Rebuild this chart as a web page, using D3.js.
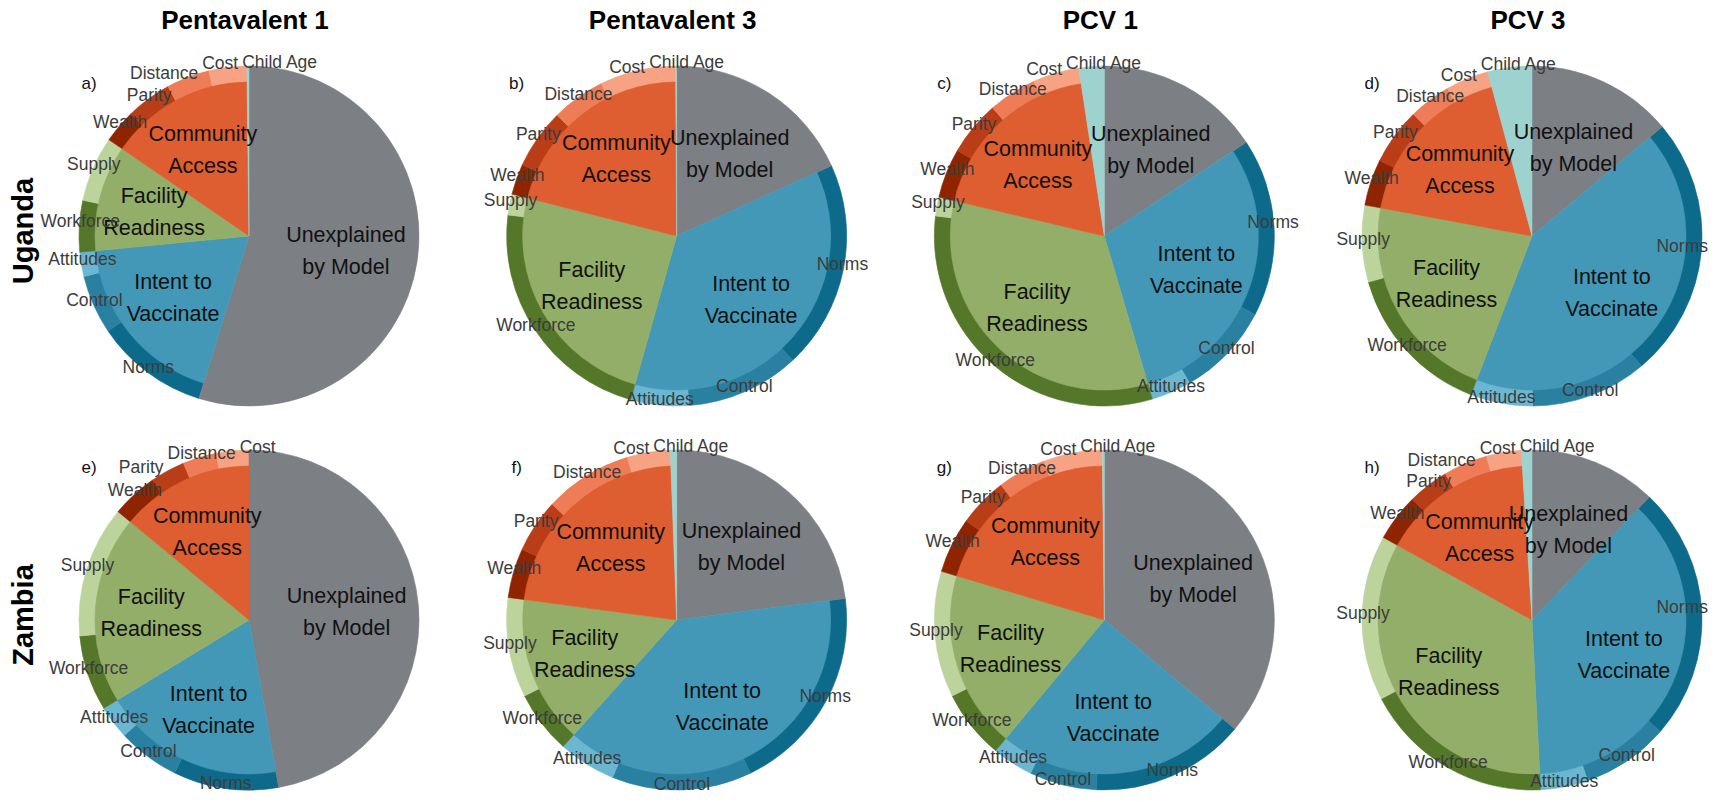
<!DOCTYPE html>
<html><head><meta charset="utf-8">
<script src="https://cdn.jsdelivr.net/npm/d3@7"></script>
<style>
body{margin:0;background:#fff}
svg{display:block}
text{font-family:"Liberation Sans",Arial,Helvetica,sans-serif}
</style>
</head><body>
<svg id="chart" width="1720" height="802"></svg>
<script>
// ---------------- data ----------------
const vaccines = ["Pentavalent 1", "Pentavalent 3", "PCV 1", "PCV 3"];
const countries = ["Uganda", "Zambia"];
const panelTags = ["a)", "b)", "c)", "d)", "e)", "f)", "g)", "h)"];

const groupNames = ["Unexplained by Model", "Intent to Vaccinate", "Facility Readiness", "Community Access", "Child Age"];
const groupLines = [["Unexplained", "by Model"], ["Intent to", "Vaccinate"], ["Facility", "Readiness"], ["Community", "Access"], []];
const leafNames = ["Unexplained", "Norms", "Control", "Attitudes", "Workforce", "Supply", "Wealth", "Parity", "Distance", "Cost", "Child Age"];
const leafGroup = [0, 1, 1, 1, 2, 2, 3, 3, 3, 3, 4];

// shares (%) per panel a..h
const unexplained = [54.7, 18.2, 15.7, 13.9, 47.2, 23.0, 36.1, 12.1];
const norms       = [10.8, 19.8, 16.9, 25.0, 10.0, 19.9, 14.7, 24.2];
const control     = [5.6, 10.8, 9.0, 11.1, 5.9, 13.3, 6.4, 8.3];
const attitudes   = [2.3, 5.5, 3.8, 5.9, 3.2, 5.5, 3.9, 4.5];
const workforce   = [4.9, 22.6, 31.4, 14.8, 7.2, 6.0, 6.6, 18.1];
const supply      = [6.2, 2.0, 1.8, 7.3, 12.5, 9.5, 12.0, 15.7];
const wealth      = [3.2, 2.9, 4.7, 4.4, 4.4, 4.7, 5.3, 4.5];
const parity      = [4.3, 5.7, 5.2, 5.4, 3.3, 5.1, 4.7, 3.9];
const distance    = [4.1, 5.1, 4.6, 4.0, 3.2, 8.4, 4.6, 4.2];
const cost        = [3.6, 7.2, 4.4, 4.1, 3.1, 4.1, 5.6, 3.3];
const childAge    = [0.2, 0.1, 2.4, 4.2, 0.0, 0.6, 0.2, 1.0];

const series = [unexplained, norms, control, attitudes, workforce, supply, wealth, parity, distance, cost, childAge];

// ---------------- styles ----------------
const leafColor = d3.scaleOrdinal().domain(leafNames).range([
  "#7c7f84", "#0d6a8a", "#2a80a0", "#6bb7d2", "#55772a", "#bcd49c",
  "#8f2500", "#b93e17", "#ee7d57", "#f7a283", "#9ed2cf"]);
const groupColor = d3.scaleOrdinal().domain(groupNames).range([
  "#7c7f84", "#4398b7", "#93ae68", "#de5d31", "#9ed2cf"]);

const W = 1720, H = 802;
const R = 170, RI = 154, RL = 98, RO = 169;
const FONT_OUT = 17.5;

const svg = d3.select("#chart");
const px = d3.scalePoint().domain(vaccines).range([249, 1532]);
const py = d3.scalePoint().domain(countries).range([236, 620]);

const shapeLayer = svg.append("g");
const innerLabelLayer = svg.append("g");
const outerLabelLayer = svg.append("g");

// column titles
svg.selectAll("text.title").data(vaccines).join("text")
  .attr("class", "title")
  .attr("x", d => px(d) - 4).attr("y", 29)
  .attr("text-anchor", "middle")
  .attr("font-size", 26).attr("font-weight", "bold").attr("fill", "#000")
  .text(d => d);

// row labels
svg.selectAll("text.row").data(countries).join("text")
  .attr("class", "row")
  .attr("transform", d => `translate(33,${py(d) - 5}) rotate(-90)`)
  .attr("text-anchor", "middle")
  .attr("font-size", 29).attr("font-weight", "bold").attr("fill", "#000")
  .text(d => d);

const pie = d3.pie().sort(null).value(d => d.value).startAngle(0).endAngle(2 * Math.PI);
const ringArc = d3.arc().innerRadius(RI - 1).outerRadius(R);
const fullArc = d3.arc().innerRadius(0).outerRadius(R);
const innerArc = d3.arc().innerRadius(0).outerRadius(RI);
const labArc = d3.arc().innerRadius(RL).outerRadius(RL);
const outArc = d3.arc().innerRadius(RO).outerRadius(RO);

countries.forEach((ct, ri) => {
  vaccines.forEach((vc, ci) => {
    const k = ri * vaccines.length + ci;
    const cx = px(vc), cy = py(ct);
    const leaves = leafNames.map((n, i) => ({ name: n, group: leafGroup[i], value: series[i][k] }));
    const arcs = pie(leaves);

    const groups = groupNames.map((g, gi) => {
      const a = arcs.filter(d => d.data.group === gi);
      return { name: g, gi, startAngle: d3.min(a, d => d.startAngle), endAngle: d3.max(a, d => d.endAngle), padAngle: 0 };
    });

    const g = shapeLayer.append("g").attr("transform", `translate(${cx},${cy})`);
    // outer ring (sub-factors)
    g.selectAll("path.ring").data(arcs.filter(d => d.data.group !== 0 && d.data.group !== 4 && d.data.value > 0))
      .join("path").attr("class", "ring")
      .attr("d", ringArc)
      .attr("fill", d => leafColor(d.data.name))
      .attr("stroke", d => leafColor(d.data.name)).attr("stroke-width", 0.6);
    // inner pie (groups)
    g.selectAll("path.grp").data(groups.filter(d => d.endAngle > d.startAngle))
      .join("path").attr("class", "grp")
      .attr("d", d => (d.gi === 0 || d.gi === 4) ? fullArc(d) : innerArc(d))
      .attr("fill", d => groupColor(d.name))
      .attr("stroke", d => groupColor(d.name)).attr("stroke-width", 0.6);

    // panel tag
    innerLabelLayer.append("text")
      .attr("x", cx - 160).attr("y", cy - 153).attr("dy", "0.35em")
      .attr("text-anchor", "middle").attr("font-size", 17).attr("fill", "#111")
      .text(panelTags[k]);

    // inner labels
    groups.filter(d => groupLines[d.gi].length).forEach(d => {
      const [lx, ly] = labArc.centroid(d);
      const t = innerLabelLayer.append("text")
        .attr("text-anchor", "middle").attr("font-size", 21.5).attr("fill", "#111");
      groupLines[d.gi].forEach((line, li) => {
        t.append("tspan").attr("x", cx + lx).attr("y", cy + ly + (li - 0.5) * 32).attr("dy", "0.35em").text(line);
      });
    });

    // outer labels with simple collision relaxation
    const labs = arcs.filter(d => d.data.group !== 0 && d.data.value > 0.05).map(d => {
      const [ox, oy] = outArc.centroid(d);
      const t = outerLabelLayer.append("text")
        .attr("text-anchor", "middle").attr("dy", "0.35em")
        .attr("font-size", FONT_OUT).attr("fill", "#3c3c3c")
        .text(d.data.name);
      return { t, x: cx + ox, y: cy + oy - 5, w: t.node().getComputedTextLength(), a: (d.startAngle + d.endAngle) / 2 };
    });
    for (let it = 0; it < 60; it++) {
      for (let i = 0; i < labs.length; i++) {
        for (let j = i + 1; j < labs.length; j++) {
          const A = labs[i], B = labs[j];
          if (Math.abs(A.y - B.y) >= 15) continue;
          const need = A.w / 2 + B.w / 2 + 4;
          const dx = A.x - B.x;
          const ov = need - Math.abs(dx);
          if (ov > 0) {
            const s = dx !== 0 ? Math.sign(dx) : (A.a > B.a ? 1 : -1);
            A.x += s * ov / 2; B.x -= s * ov / 2;
          }
        }
      }
      labs.forEach(L => {
        L.x = Math.min(L.x, 1708 - L.w / 2);
        L.x = Math.max(L.x, 2 + L.w / 2);
      });
    }
    labs.forEach(L => L.t.attr("x", L.x).attr("y", L.y));
  });
});
</script>
</body></html>
